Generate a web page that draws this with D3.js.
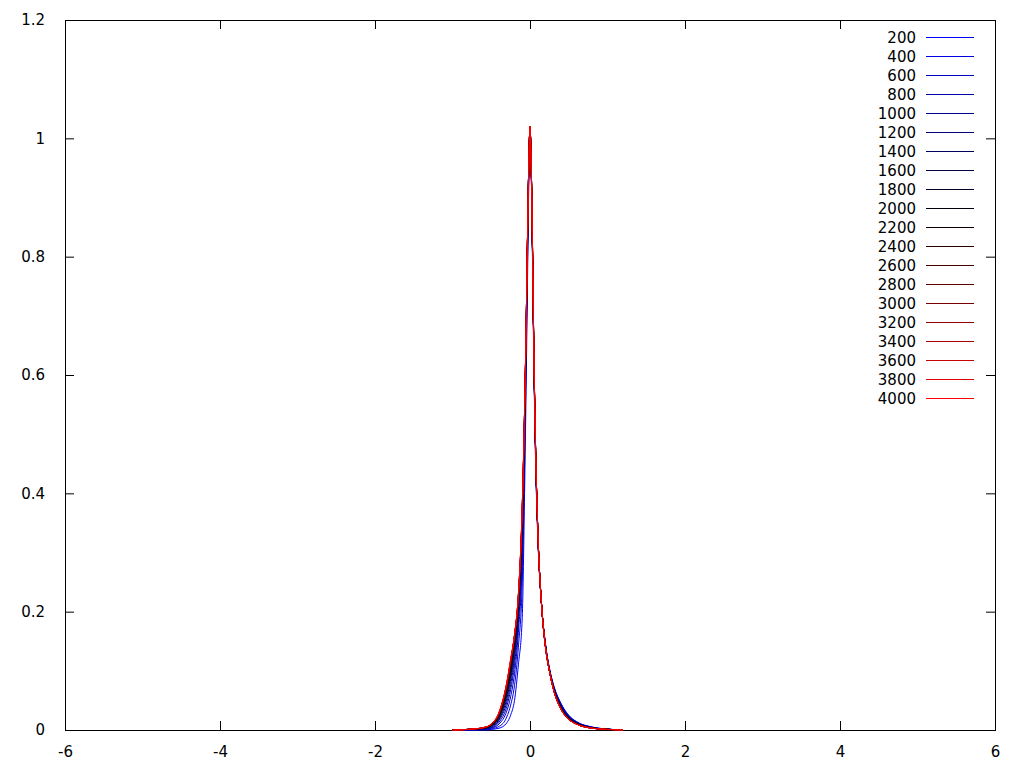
<!DOCTYPE html>
<html>
<head>
<meta charset="utf-8">
<script src="https://cdn.jsdelivr.net/npm/d3@7"></script>
<style>
  body { margin: 0; background: #fff; }
  svg text { font-family: "DejaVu Sans", sans-serif; font-size: 15px; fill: #000; }
</style>
</head>
<body>
<div id="chart"></div>
<script>
// x positions shared by every curve
var xs = [-1.0, -0.8, -0.6, -0.5, -0.4, -0.3, -0.25, -0.2, -0.15, -0.1, -0.07, -0.05, -0.03, -0.015, 0,
          0.015, 0.03, 0.05, 0.07, 0.1, 0.15, 0.2, 0.25, 0.3, 0.4, 0.5, 0.6, 0.8, 1.0, 1.2];

var labels = [200, 400, 600, 800, 1000, 1200, 1400, 1600, 1800, 2000,
              2200, 2400, 2600, 2800, 3000, 3200, 3400, 3600, 3800, 4000];

var s200  = [0, 0, 0, 0.001, 0.003, 0.012, 0.025, 0.05, 0.11, 0.19, 0.40, 0.58, 0.78, 0.93, 1.00,
             0.95, 0.82, 0.62, 0.47, 0.33, 0.21, 0.145, 0.105, 0.078, 0.045, 0.025, 0.014, 0.005, 0.0015, 0];
var s400  = [0, 0, 0.001, 0.002, 0.006, 0.022, 0.042, 0.075, 0.14, 0.25, 0.45, 0.62, 0.81, 0.94, 1.005,
             0.95, 0.82, 0.62, 0.47, 0.33, 0.21, 0.145, 0.104, 0.077, 0.044, 0.024, 0.014, 0.005, 0.0015, 0];
var s600  = [0, 0, 0.001, 0.003, 0.010, 0.032, 0.056, 0.095, 0.165, 0.29, 0.48, 0.64, 0.82, 0.95, 1.01,
             0.95, 0.83, 0.63, 0.48, 0.335, 0.21, 0.144, 0.103, 0.076, 0.043, 0.023, 0.013, 0.0045, 0.0014, 0];
var s800  = [0, 0, 0.002, 0.004, 0.013, 0.040, 0.068, 0.110, 0.180, 0.31, 0.50, 0.65, 0.83, 0.95, 1.012,
             0.95, 0.83, 0.63, 0.48, 0.335, 0.21, 0.143, 0.103, 0.075, 0.042, 0.023, 0.013, 0.0043, 0.0013, 0];
var s1000 = [0, 0.001, 0.002, 0.005, 0.016, 0.047, 0.077, 0.122, 0.192, 0.33, 0.51, 0.66, 0.84, 0.95, 1.014,
             0.96, 0.83, 0.63, 0.48, 0.335, 0.21, 0.143, 0.102, 0.075, 0.041, 0.022, 0.012, 0.0041, 0.0013, 0];
var s1200 = [0, 0.001, 0.002, 0.006, 0.018, 0.053, 0.085, 0.131, 0.200, 0.34, 0.52, 0.67, 0.84, 0.96, 1.015,
             0.96, 0.83, 0.63, 0.485, 0.34, 0.21, 0.142, 0.102, 0.074, 0.040, 0.021, 0.012, 0.0040, 0.0012, 0];
var s1400 = [0, 0.001, 0.003, 0.007, 0.020, 0.058, 0.091, 0.139, 0.207, 0.35, 0.52, 0.67, 0.84, 0.96, 1.016,
             0.96, 0.83, 0.635, 0.485, 0.34, 0.21, 0.142, 0.101, 0.073, 0.039, 0.021, 0.012, 0.0038, 0.0012, 0];
var s1600 = [0, 0.001, 0.003, 0.007, 0.022, 0.062, 0.096, 0.145, 0.212, 0.355, 0.53, 0.67, 0.85, 0.96, 1.017,
             0.96, 0.835, 0.635, 0.485, 0.34, 0.21, 0.141, 0.101, 0.073, 0.038, 0.020, 0.011, 0.0037, 0.0012, 0];
var s1800 = [0, 0.001, 0.003, 0.008, 0.023, 0.065, 0.100, 0.149, 0.216, 0.36, 0.53, 0.67, 0.85, 0.96, 1.017,
             0.96, 0.835, 0.635, 0.487, 0.34, 0.21, 0.141, 0.101, 0.072, 0.038, 0.020, 0.011, 0.0035, 0.0011, 0];
var s2000 = [0, 0.001, 0.003, 0.008, 0.024, 0.068, 0.104, 0.152, 0.219, 0.365, 0.53, 0.68, 0.85, 0.96, 1.018,
             0.96, 0.835, 0.637, 0.487, 0.34, 0.21, 0.141, 0.100, 0.072, 0.037, 0.019, 0.011, 0.0034, 0.0011, 0];
var s2200 = [0, 0.001, 0.003, 0.008, 0.025, 0.070, 0.107, 0.154, 0.221, 0.37, 0.535, 0.68, 0.85, 0.96, 1.018,
             0.96, 0.835, 0.637, 0.488, 0.34, 0.21, 0.140, 0.100, 0.071, 0.037, 0.019, 0.011, 0.0033, 0.0011, 0];
var s2400 = [0, 0.001, 0.003, 0.009, 0.026, 0.072, 0.110, 0.156, 0.223, 0.37, 0.535, 0.68, 0.85, 0.96, 1.018,
             0.96, 0.838, 0.638, 0.488, 0.34, 0.21, 0.140, 0.100, 0.071, 0.036, 0.019, 0.010, 0.0032, 0.0010, 0];
var s2600 = [0, 0.001, 0.004, 0.009, 0.027, 0.074, 0.112, 0.157, 0.224, 0.372, 0.537, 0.68, 0.85, 0.96, 1.019,
             0.96, 0.84, 0.64, 0.49, 0.34, 0.21, 0.140, 0.100, 0.070, 0.036, 0.019, 0.010, 0.0031, 0.0010, 0];
var s2800 = [0, 0.001, 0.004, 0.009, 0.027, 0.075, 0.114, 0.158, 0.225, 0.374, 0.538, 0.68, 0.85, 0.96, 1.019,
             0.96, 0.84, 0.64, 0.49, 0.34, 0.21, 0.140, 0.100, 0.070, 0.036, 0.018, 0.010, 0.0031, 0.0010, 0];
var s3000 = [0, 0.001, 0.004, 0.009, 0.028, 0.076, 0.115, 0.159, 0.226, 0.375, 0.539, 0.68, 0.85, 0.96, 1.019,
             0.96, 0.84, 0.64, 0.49, 0.34, 0.21, 0.140, 0.100, 0.070, 0.035, 0.018, 0.010, 0.0030, 0.0010, 0];
var s3200 = [0, 0.001, 0.004, 0.010, 0.028, 0.077, 0.116, 0.160, 0.227, 0.376, 0.54, 0.68, 0.85, 0.96, 1.02,
             0.96, 0.84, 0.64, 0.49, 0.34, 0.21, 0.140, 0.100, 0.070, 0.035, 0.018, 0.010, 0.0030, 0.0010, 0];
var s3400 = [0, 0.001, 0.004, 0.010, 0.029, 0.078, 0.117, 0.160, 0.228, 0.377, 0.54, 0.68, 0.85, 0.96, 1.02,
             0.96, 0.84, 0.64, 0.49, 0.34, 0.21, 0.140, 0.100, 0.070, 0.035, 0.018, 0.010, 0.0030, 0.0010, 0];
var s3600 = [0, 0.001, 0.004, 0.010, 0.029, 0.079, 0.118, 0.160, 0.229, 0.378, 0.54, 0.68, 0.85, 0.96, 1.02,
             0.96, 0.84, 0.64, 0.49, 0.34, 0.21, 0.140, 0.100, 0.070, 0.035, 0.018, 0.010, 0.0030, 0.0010, 0];
var s3800 = [0, 0.001, 0.004, 0.010, 0.030, 0.080, 0.119, 0.161, 0.229, 0.379, 0.54, 0.68, 0.85, 0.96, 1.02,
             0.96, 0.84, 0.64, 0.49, 0.34, 0.21, 0.140, 0.100, 0.070, 0.035, 0.018, 0.010, 0.0030, 0.0010, 0];
var s4000 = [0, 0.001, 0.004, 0.010, 0.030, 0.080, 0.120, 0.161, 0.230, 0.380, 0.54, 0.68, 0.85, 0.96, 1.02,
             0.96, 0.84, 0.64, 0.49, 0.34, 0.21, 0.140, 0.100, 0.070, 0.035, 0.018, 0.010, 0.0030, 0.0010, 0];

var series = [s200, s400, s600, s800, s1000, s1200, s1400, s1600, s1800, s2000,
              s2200, s2400, s2600, s2800, s3000, s3200, s3400, s3600, s3800, s4000];

var xTicks = [-6, -4, -2, 0, 2, 4, 6];
var yTicks = [0, 0.2, 0.4, 0.6, 0.8, 1, 1.2];

var width = 1024, height = 768;
var margin = {top: 20, right: 29, bottom: 38, left: 65};
var innerW = width - margin.left - margin.right,
    innerH = height - margin.top - margin.bottom;

var svg = d3.select("#chart").append("svg")
    .attr("width", width)
    .attr("height", height);

var x = d3.scaleLinear().domain([-6, 6]).range([margin.left, margin.left + innerW]);
var y = d3.scaleLinear().domain([0, 1.2]).range([margin.top + innerH, margin.top]);

// blue -> black -> red, like the gnuplot colour ramp
var color = d3.scaleLinear().domain([200, 2100, 4000])
    .range(["#0000ff", "#000000", "#ff0000"]);

var fmt = function (d) { return String(+d.toFixed(1)); };

// axes with inward ticks on all four sides
svg.append("g")
    .attr("transform", "translate(0," + (margin.top + innerH) + ")")
    .call(d3.axisBottom(x).tickValues(xTicks).tickFormat(fmt).tickSizeInner(-9).tickSizeOuter(0).tickPadding(16));
svg.append("g")
    .attr("transform", "translate(0," + margin.top + ")")
    .call(d3.axisTop(x).tickValues(xTicks).tickFormat("").tickSizeInner(-9).tickSizeOuter(0));
svg.append("g")
    .attr("transform", "translate(" + margin.left + ",0)")
    .call(d3.axisLeft(y).tickValues(yTicks).tickFormat(fmt).tickSizeInner(-9).tickSizeOuter(0).tickPadding(20));
svg.append("g")
    .attr("transform", "translate(" + (margin.left + innerW) + ",0)")
    .call(d3.axisRight(y).tickValues(yTicks).tickFormat("").tickSizeInner(-9).tickSizeOuter(0));

svg.selectAll(".domain").remove();
svg.selectAll(".tick line").attr("stroke", "#000");
svg.selectAll(".tick text").style("font-size", "15px").style("font-family", "DejaVu Sans, sans-serif");

svg.append("rect")
    .attr("x", margin.left + 0.5)
    .attr("y", margin.top + 0.5)
    .attr("width", innerW)
    .attr("height", innerH)
    .attr("fill", "none")
    .attr("stroke", "#000");

var line = d3.line()
    .x(function (d) { return x(d[0]); })
    .y(function (d) { return y(d[1]); })
    .curve(d3.curveMonotoneX);

series.forEach(function (ys, i) {
    var pts = xs.map(function (xv, j) { return [xv, ys[j]]; });
    svg.append("path")
        .attr("d", line(pts))
        .attr("fill", "none")
        .attr("stroke", color(labels[i]))
        .attr("stroke-width", 1);
});

// legend, top right
var legend = svg.append("g");
labels.forEach(function (lab, i) {
    var ly = 37 + i * 19;
    legend.append("text")
        .attr("x", 916)
        .attr("y", ly + 1)
        .attr("dy", "0.35em")
        .attr("text-anchor", "end")
        .text(lab);
    legend.append("line")
        .attr("x1", 926).attr("x2", 974)
        .attr("y1", ly + 0.5).attr("y2", ly + 0.5)
        .attr("stroke", color(lab))
        .attr("stroke-width", 1);
});
</script>
</body>
</html>
